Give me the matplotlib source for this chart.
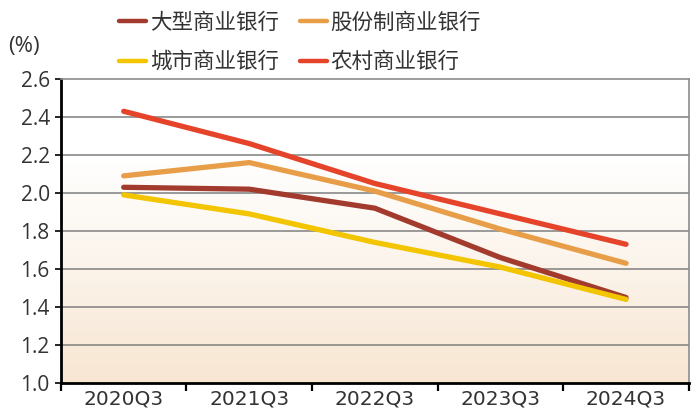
import numpy as np
import matplotlib
matplotlib.use("Agg")
import matplotlib.pyplot as plt
from matplotlib.colors import LinearSegmentedColormap

plt.rcParams['font.family'] = ['Noto Sans CJK SC', 'DejaVu Sans']

categories = ["2020Q3", "2021Q3", "2022Q3", "2023Q3", "2024Q3"]
large_banks = [2.03, 2.02, 1.92, 1.66, 1.45]
joint_stock = [2.09, 2.16, 2.01, 1.81, 1.63]
city_banks = [1.99, 1.89, 1.74, 1.61, 1.44]
rural_banks = [2.43, 2.26, 2.05, 1.89, 1.73]
yticks = [1.0, 1.2, 1.4, 1.6, 1.8, 2.0, 2.2, 2.4, 2.6]

fig = plt.figure(figsize=(7, 4.2), dpi=100)
ax = fig.add_axes([0.087, 0.088, 0.897, 0.724])

x = np.arange(len(categories))
ax.set_xlim(-0.5, len(categories) - 0.5)
ax.set_ylim(1.0, 2.6)

# background gradient
cmap = LinearSegmentedColormap.from_list("bg", [(0, "#f8e6d2"), (0.45, "#fcf6ef"), (0.75, "#ffffff"), (1, "#ffffff")])
grad = np.linspace(0, 1, 256).reshape(-1, 1)
ax.imshow(grad, aspect='auto', cmap=cmap, extent=[-0.5, len(categories) - 0.5, 1.0, 2.6],
          origin='lower', zorder=0)

for yv in yticks[1:-1]:
    ax.axhline(yv, color='#7f7f7f', lw=1.1, zorder=1)

series = [
    ("大型商业银行", large_banks, "#A23B2E"),
    ("城市商业银行", city_banks, "#F2C500"),
    ("股份制商业银行", joint_stock, "#E89E48"),
    ("农村商业银行", rural_banks, "#E5432A"),
]
handles = {}
for name, vals, col in series:
    h, = ax.plot(x, vals, color=col, lw=3.8, solid_capstyle='round', solid_joinstyle='round', zorder=3)
    handles[name] = h

ax.set_yticks(yticks)
ax.set_yticklabels(["%.1f" % v for v in yticks], fontsize=15,
                   family=['Open Sans', 'DejaVu Sans'], color='#333333')
ax.set_xticks(np.arange(-0.5, len(categories) + 0.5, 1.0))
ax.set_xticklabels([])
ax.set_xticks(x, minor=True)
ax.set_xticklabels(categories, minor=True, fontsize=14.5, family=['Liberation Sans Narrow', 'DejaVu Sans'], color='#333333')
ax.tick_params(axis='x', which='major', length=6, width=1.6, direction='out', color='black')
ax.tick_params(axis='x', which='minor', length=0, pad=5)
ax.tick_params(axis='y', length=4, width=1.2, direction='out', color='black', pad=4)

for s in ['left', 'bottom']:
    ax.spines[s].set_color('black')
    ax.spines[s].set_linewidth(2)
for s in ['top', 'right']:
    ax.spines[s].set_color('#8c8c8c')
    ax.spines[s].set_linewidth(1.2)

fig.text(0.012, 0.89, "(%)", fontsize=16, color='#333333', va='center', ha='left',
         family=['Open Sans', 'DejaVu Sans'])

order = ["大型商业银行", "城市商业银行", "股份制商业银行", "农村商业银行"]
leg = fig.legend([handles[n] for n in order], order, ncol=2, loc='upper left',
                 bbox_to_anchor=(0.143, 1.018), frameon=False, fontsize=15.5,
                 handlelength=1.25, handletextpad=0.15, columnspacing=1.0, labelspacing=0.8,
                 labelcolor='#333333')
for l in leg.get_lines():
    l.set_linewidth(3.2)

fig.savefig("out.png", dpi=100)
